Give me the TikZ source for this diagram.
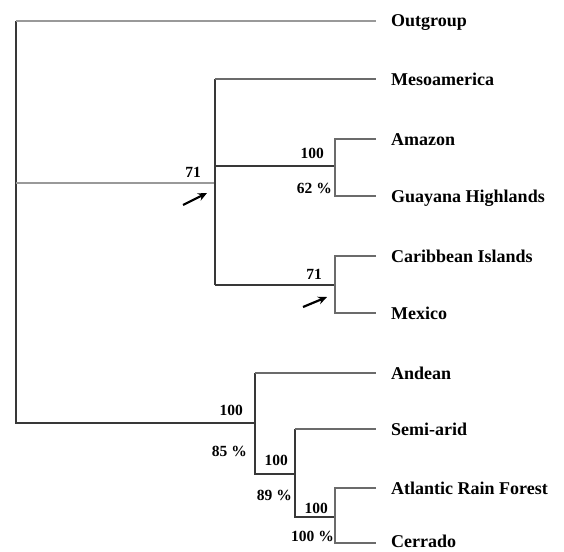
\documentclass[tikz,border=0pt]{standalone}
\usepackage{fontspec}
\setmainfont{Liberation Serif}
\usepackage{tikz}
\usetikzlibrary{arrows.meta,calc,positioning}

\begin{document}
\begin{tikzpicture}[%
x=1pt, y=-1pt,
branch/.style={draw=black!78, line width=1.3pt},
tip/.style={draw=black!58, line width=1.3pt},
pale/.style={draw=black!40, line width=2.2pt},
taxon/.style={anchor=west, inner xsep=15pt, inner ysep=0pt, text height=12pt,
  text depth=0pt, font=\fontsize{18}{20}\selectfont\bfseries},
lbl/.style={anchor=base east, inner sep=0pt, font=\fontsize{15.5}{17}\selectfont\bfseries},
pointer/.style={-{Stealth[length=9pt,width=8pt]}, line width=2.2pt, black}
]
\useasboundingbox (0,0) rectangle (564,551);

% taxa
\node[taxon] (out) at (376,21) {Outgroup};
\node[taxon] (meso) at (376,79) {Mesoamerica};
\node[taxon] (amaz) at (376,139) {Amazon};
\node[taxon] (guay) at (376,196) {Guayana Highlands};
\node[taxon] (carib) at (376,256) {Caribbean Islands};
\node[taxon] (mex) at (376,313) {Mexico};
\node[taxon] (andean) at (376,373) {Andean};
\node[taxon] (semi) at (376,429) {Semi-arid};
\node[taxon] (atl) at (376,488) {Atlantic Rain Forest};
\node[taxon, text height=9pt] (cerr) at (376,543) {Cerrado};

% internal nodes
\coordinate (root) at (16,21);
\coordinate (nA) at (215,183);
\coordinate (nB) at (335,166);
\coordinate (nC) at (335,285);
\coordinate (nD) at (255,423);
\coordinate (nE) at (295,474);
\coordinate (nF) at (335,517);

% root
\draw[branch] (nD) -| (root);
\draw[pale] (root) -- (out.west);
\draw[pale] (root |- nA) -- (nA);

% northern clade
\draw[branch] (nA |- meso) -- (nA |- nC);
\draw[tip] (nA |- meso) -- (meso.west);
\draw[branch] (nA |- nB) -- (nB);
\draw[branch] (nA |- nC) -- (nC);
\draw[tip] (amaz.west) -| (nB) |- (guay.west);
\draw[tip] (carib.west) -| (nC) |- (mex.west);

% southern clade
\draw[branch] (nD |- andean) -- (nD |- nE) -- (nE);
\draw[tip] (nD |- andean) -- (andean.west);
\draw[branch] (nE |- semi) -- (nE |- nF) -- (nF);
\draw[tip] (nE |- semi) -- (semi.west);
\draw[tip] (atl.west) -| (nF) |- (cerr.west);

% support values
\node[lbl] (sA) at (201,177) {71};
\node[lbl] (sB) at (324,158) {100};
\node[lbl] (pB) at (332,193) {62 \%};
\node[lbl] (sC) at (322,279) {71};
\node[lbl] (sD) at (243,415) {100};
\node[lbl] (pD) at (247,456) {85 \%};
\node[lbl] (sE) at (288,465) {100};
\node[lbl] (pE) at (292,500) {89 \%};
\node[lbl] (sF) at (328,513) {100};
\node[lbl] (pF) at (334,541) {100 \%};

% arrows
\coordinate (a1) at ($(nA)+(-32,22)$);
\coordinate (a2) at ($(nC)+(-32,22)$);
\draw[pointer] (a1) -- ($(nA)+(-8,10)$);
\draw[pointer] (a2) -- ($(nC)+(-8,12)$);

\end{tikzpicture}
\end{document}
